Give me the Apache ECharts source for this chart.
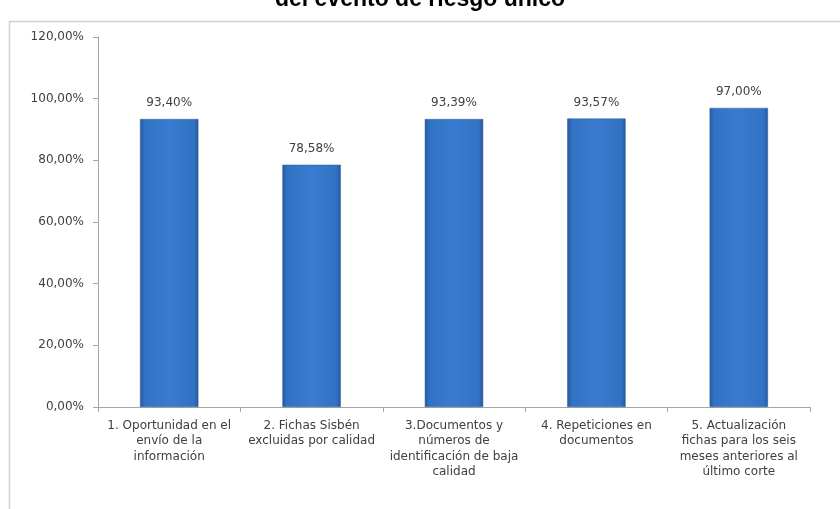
<!DOCTYPE html>
<html>
<head>
<meta charset="utf-8">
<script src="https://cdn.jsdelivr.net/npm/echarts@6/dist/echarts.min.js"></script>
<style>html,body{margin:0;padding:0;background:#fff}#c{width:840px;height:509px}</style>
</head>
<body>
<div id="c"></div>
<script>
const titleText = 'del evento de riesgo único';
const categories = [
  '1. Oportunidad en el\nenvío de la\ninformación',
  '2. Fichas Sisbén\nexcluidas por calidad',
  '3.Documentos y\nnúmeros de\nidentificación de baja\ncalidad',
  '4. Repeticiones en\ndocumentos',
  '5. Actualización\nfichas para los seis\nmeses anteriores al\núltimo corte'
];
const values = [93.40, 78.58, 93.39, 93.57, 97.00];
const yMin = 0, yMax = 120, yStep = 20;

const fmt = v => v.toFixed(2).replace('.', ',') + '%';
const FONT = 'DejaVu Sans';
const chart = echarts.init(document.getElementById('c'));
chart.setOption({
  animation: false,
  backgroundColor: '#fff',
  title: {
    text: titleText, left: 'center', top: -17,
    textStyle: { fontFamily: 'Liberation Sans', fontWeight: 'bold', fontSize: 23, color: '#000' }
  },
  graphic: [{
    type: 'rect', z: -1, silent: true,
    shape: { x: 9.5, y: 21.5, width: 900, height: 600 },
    style: { fill: 'none', stroke: '#cfcfcf', lineWidth: 1.5 }
  }],
  grid: { left: 98, right: 30, top: 37, bottom: 102 },
  xAxis: {
    type: 'category', data: categories,
    axisLine: { lineStyle: { color: '#a6a6a6', width: 1 } },
    axisTick: { show: true, alignWithLabel: false, length: 5, lineStyle: { color: '#a6a6a6' } },
    axisLabel: { interval: 0, color: '#404040', fontFamily: FONT, fontSize: 12, lineHeight: 15.5, margin: 11 }
  },
  yAxis: {
    type: 'value', min: yMin, max: yMax, interval: yStep,
    axisLine: { show: true, lineStyle: { color: '#a6a6a6' } },
    axisTick: { show: true, length: 5, lineStyle: { color: '#a6a6a6' } },
    splitLine: { show: false },
    axisLabel: { color: '#404040', fontFamily: FONT, fontSize: 12, margin: 14, formatter: v => fmt(v) }
  },
  series: [{
    type: 'bar', data: values, barWidth: '41%',
    itemStyle: {
      color: new echarts.graphic.LinearGradient(0, 0, 1, 0, [
        { offset: 0, color: '#27589c' },
        { offset: 0.08, color: '#3272c4' },
        { offset: 0.5, color: '#3a7bcf' },
        { offset: 0.92, color: '#3272c4' },
        { offset: 1, color: '#27589c' }
      ]),
      borderColor: '#2b5e9e', borderWidth: 0.5
    },
    label: { show: true, position: 'top', distance: 10, color: '#404040', fontFamily: FONT, fontSize: 12, formatter: p => fmt(p.value) }
  }]
});
</script>
</body>
</html>
